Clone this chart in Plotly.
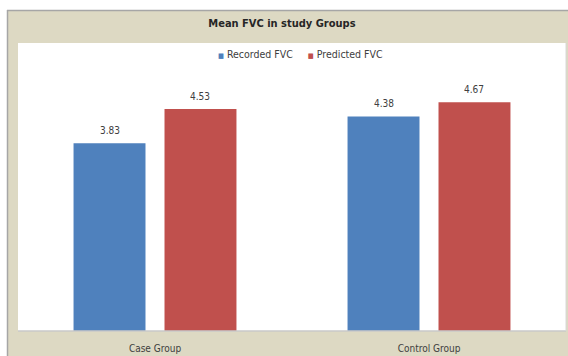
import plotly.graph_objects as go

# Chart data
categories = ["Case Group", "Control Group"]
series_names = ["Recorded FVC", "Predicted FVC"]
recorded_fvc = [3.83, 4.38]
predicted_fvc = [4.53, 4.67]
series_colors = ["#4F81BD", "#C0504D"]

W, H = 568, 356
ML, MR, MT, MB = 18, 2, 43, 25
PW, PH = W - ML - MR, H - MT - MB
FONT = "Liberation Sans Narrow, DejaVu Sans Condensed, Liberation Sans, sans-serif"


def px_x(x):
    return (x - ML) / PW


def px_y(y):
    return (H - MB - y) / PH


BARGAP = 0.336
GROUPGAP = 0.209
slot = (1 - BARGAP) / 2

fig = go.Figure()
for i, (name, vals, col) in enumerate(zip(series_names, [recorded_fvc, predicted_fvc], series_colors)):
    fig.add_trace(go.Bar(
        x=categories, y=vals, name=name, marker_color=col,
        marker_line_width=0, showlegend=False,
    ))
    off = (i - 0.5) * slot
    for j, v in enumerate(vals):
        fig.add_annotation(
            x=j + off, y=v, xref="x", yref="y", text=f"{v:.2f}",
            showarrow=False, yshift=13, font=dict(family=FONT, size=10, color="#404040"),
        )

# Legend row as inline text with coloured square markers
legend_text = "&nbsp;&nbsp;&nbsp;&nbsp;&nbsp;".join(
    f"<span style='color:{c}; font-size:7px'>■</span>&nbsp;{n}" for n, c in zip(series_names, series_colors)
)
fig.add_annotation(
    x=px_x(300), y=px_y(46), xref="paper", yref="paper", text=legend_text,
    showarrow=False, font=dict(family=FONT, size=10.5, color="#404040"),
)

# Frame: white strips outside the beige chart area plus grey border
shapes = [
    dict(type="rect", xref="paper", yref="paper", x0=px_x(0), x1=px_x(W), y0=px_y(10), y1=px_y(0),
         fillcolor="white", line_width=0),
    dict(type="rect", xref="paper", yref="paper", x0=px_x(0), x1=px_x(7), y0=px_y(H), y1=px_y(10),
         fillcolor="white", line_width=0),
    dict(type="line", xref="paper", yref="paper", x0=px_x(7), x1=px_x(W), y0=px_y(10.5), y1=px_y(10.5),
         line=dict(color="#A6A6A6", width=1.5)),
    dict(type="line", xref="paper", yref="paper", x0=px_x(7.5), x1=px_x(7.5), y0=px_y(H), y1=px_y(10),
         line=dict(color="#A6A6A6", width=1.5)),
    dict(type="line", xref="paper", yref="paper", x0=0, x1=1, y0=0, y1=0,
         line=dict(color="#C8C8C8", width=1.5)),
    dict(type="line", xref="paper", yref="paper", x0=1, x1=1, y0=0, y1=1,
         line=dict(color="#D8D8D8", width=1)),
]

fig.update_layout(
    width=W, height=H,
    margin=dict(l=ML, r=MR, t=MT, b=MB),
    paper_bgcolor="#DDD9C3",
    plot_bgcolor="white",
    barmode="group", bargap=BARGAP, bargroupgap=GROUPGAP,
    shapes=shapes,
    title=dict(text="<b>Mean FVC in study Groups</b>", x=px_x(290), xanchor="center",
               y=1 - 23 / H, yanchor="middle",
               font=dict(family=FONT, size=11, color="#262626")),
    font=dict(family=FONT),
    xaxis=dict(showgrid=False, zeroline=False, showline=False, ticks="", automargin=False,
               ticklabelstandoff=10, tickfont=dict(family=FONT, size=10, color="#404040")),
    yaxis=dict(range=[0, PH / 49.0], showgrid=False, zeroline=False, showline=False,
               showticklabels=False, ticks="", automargin=False),
)

fig.write_html("out.html")
